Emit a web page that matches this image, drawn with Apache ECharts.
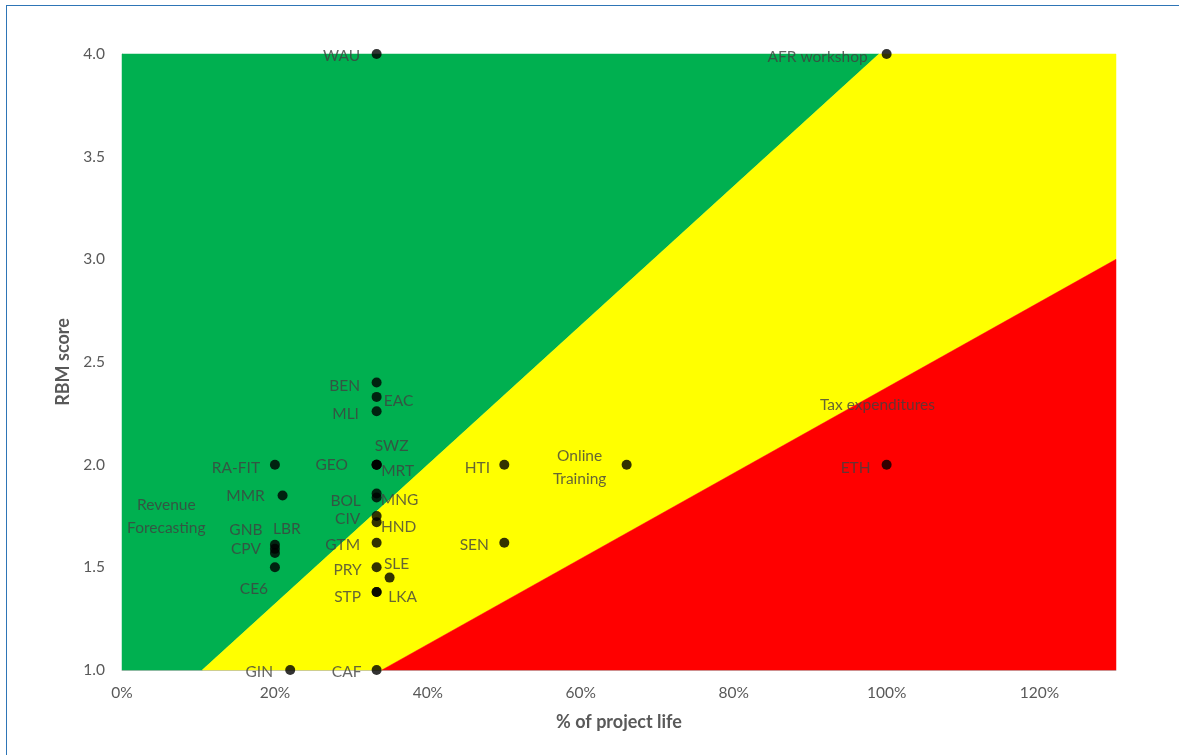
<!DOCTYPE html>
<html>
<head>
<meta charset="utf-8">
<script src="https://cdn.jsdelivr.net/npm/echarts@6/dist/echarts.min.js"></script>
<style>
html,body{margin:0;padding:0;background:#fff;}
#frame{position:absolute;left:6px;top:5px;width:1200px;height:800px;border-left:1px solid #2e75b6;border-top:1px solid #2e75b6;}
#chart{position:absolute;left:0;top:0;width:1179px;height:755px;}
</style>
</head>
<body>
<div id="frame"></div>
<div id="chart"></div>
<script>
// ---- data ----
const xTicks = [0, 0.2, 0.4, 0.6, 0.8, 1.0, 1.2];
const yTicks = [1.0, 1.5, 2.0, 2.5, 3.0, 3.5, 4.0];
const zoneGreen  = [[0, 1], [0.105, 1], [0.99, 4], [0, 4]];
const zoneYellow = [[0.105, 1], [0.34, 1], [1.3, 3.0], [1.3, 4], [0.99, 4]];
const zoneRed    = [[0.34, 1], [1.3, 1], [1.3, 3.0]];
const pointNames = ["WAU","AFR workshop","BEN","EAC","MLI","SWZ","GEO","MRT","RA-FIT","MMR","BOL","MNG","CIV","HND","GTM","PRY","SLE","STP","LKA","GNB","LBR","CPV","CE6","GIN","CAF","HTI","SEN","Online\nTraining","ETH"];
const pointX = [0.333,1.0,0.333,0.333,0.333,0.333,0.333,0.333,0.20,0.21,0.333,0.333,0.333,0.333,0.333,0.333,0.35,0.333,0.333,0.20,0.20,0.20,0.20,0.22,0.333,0.50,0.50,0.66,1.0];
const pointY = [4.0,4.0,2.40,2.33,2.26,2.0,2.0,2.0,2.0,1.85,1.86,1.84,1.75,1.72,1.62,1.50,1.45,1.38,1.38,1.61,1.59,1.57,1.50,1.0,1.0,2.0,1.62,2.0,2.0];
const noteNames = ["Revenue\nForecasting", "Tax expenditures"];
const noteX = [0.058, 0.988];
const noteY = [1.75, 2.29];

// ---- label placement (style) ----
const labelOffset = {
  "WAU":[-35,2], "AFR workshop":[-69,3], "BEN":[-32,3], "EAC":[22,4], "MLI":[-31,3],
  "SWZ":[15,-19], "GEO":[-45,0], "MRT":[21,6], "RA-FIT":[-39,3], "MMR":[-37,1],
  "BOL":[-31,8], "MNG":[23,2], "CIV":[-29,3], "HND":[22,5], "GTM":[-34,2],
  "PRY":[-29,3], "SLE":[7,-14], "STP":[-29,5], "LKA":[26,5],
  "GNB":[-29,-15], "LBR":[12,-20], "CPV":[-29,-4], "CE6":[-21,22],
  "GIN":[-31,2], "CAF":[-30,2], "HTI":[-27,3], "SEN":[-30,2],
  "Online\nTraining":[-47,3], "ETH":[-31,3]
};

const points = pointNames.map((n, i) => ({
  name: n, value: [pointX[i], pointY[i]],
  label: { offset: labelOffset[n] || [0, 0] }
}));
const notes = noteNames.map((n, i) => ({ name: n, value: [noteX[i], noteY[i]] }));
const zones = [zoneGreen, zoneYellow, zoneRed];
const zoneColors = ['#00b050', '#ffff00', '#ff0000'];

const chart = echarts.init(document.getElementById('chart'));
const FONT = 'Lato, "Open Sans", sans-serif';
const LABEL_SIZE = 15.5;
chart.setOption({
  animation: false,
  textStyle: { fontFamily: FONT },
  grid: { left: 122, right: 63, top: 54, bottom: 85, show: false },
  xAxis: {
    type: 'value', min: 0, max: 1.3, interval: 0.2,
    name: '% of project life', nameLocation: 'middle', nameGap: 43,
    nameTextStyle: { color: '#595959', fontWeight: 'bold', fontSize: 18, fontFamily: FONT },
    axisLine: { show: true, lineStyle: { color: '#bfbfbf' } },
    axisTick: { show: false },
    splitLine: { show: false },
    axisLabel: {
      color: '#595959', fontSize: 15.5, margin: 15, fontFamily: FONT,
      formatter: v => xTicks.some(t => Math.abs(t - v) < 1e-6) ? Math.round(v * 100) + '%' : ''
    }
  },
  yAxis: {
    type: 'value', min: 1, max: 4, interval: 0.5,
    name: 'RBM score', nameLocation: 'middle', nameGap: 48,
    nameTextStyle: { color: '#595959', fontWeight: 'bold', fontSize: 18, fontFamily: FONT },
    axisLine: { show: true, lineStyle: { color: '#bfbfbf' } },
    axisTick: { show: false },
    splitLine: { show: false },
    axisLabel: {
      color: '#595959', fontSize: 15.5, margin: 17, fontFamily: FONT,
      formatter: v => yTicks.some(t => Math.abs(t - v) < 1e-6) ? v.toFixed(1) : ''
    }
  },
  series: [
    {
      type: 'custom', silent: true, z: 1,
      data: zones.map((z, i) => [i]),
      renderItem: function (params, api) {
        const idx = params.dataIndex;
        const pts = zones[idx].map(p => api.coord(p));
        return { type: 'polygon', shape: { points: pts }, style: { fill: zoneColors[idx], stroke: zoneColors[idx], lineWidth: 0.5 } };
      }
    },
    {
      type: 'scatter', z: 5, symbolSize: 10,
      itemStyle: { color: '#000000' },
      data: points,
      label: {
        show: true, position: 'inside', formatter: p => p.name,
        color: '#404040', fontSize: LABEL_SIZE, fontFamily: FONT, align: 'center', verticalAlign: 'middle', lineHeight: 23
      }
    },
    {
      type: 'scatter', z: 5, symbolSize: 0, silent: true,
      data: notes,
      label: {
        show: true, position: 'inside', formatter: p => p.name,
        color: '#404040', fontSize: LABEL_SIZE, fontFamily: FONT, align: 'center', verticalAlign: 'middle', lineHeight: 23
      }
    }
  ]
});
</script>
</body>
</html>
